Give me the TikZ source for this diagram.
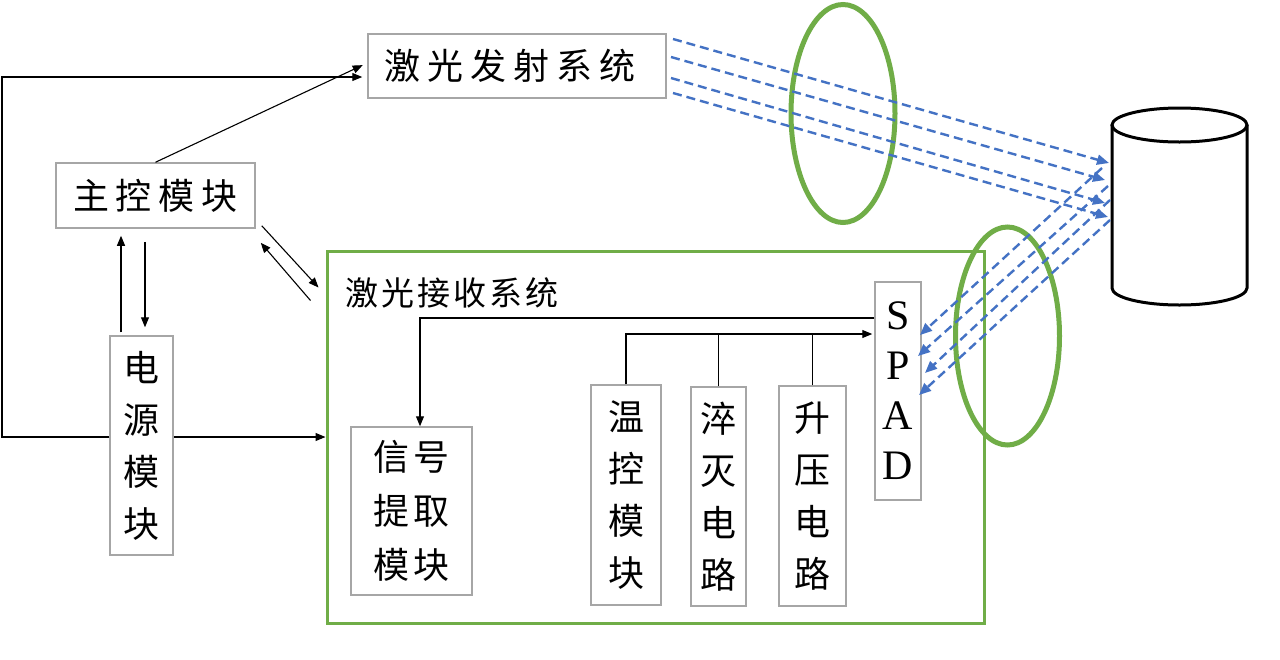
\documentclass[tikz,border=0pt]{standalone}
\usepackage{fontspec}
\setmainfont{Liberation Serif}
\newfontfamily\cjk{Noto Sans CJK SC}
\usetikzlibrary{arrows.meta}
\definecolor{gbox}{HTML}{A6A6A6}
\definecolor{grn}{HTML}{70AD47}
\definecolor{blu}{HTML}{4472C4}
\begin{document}
\begin{tikzpicture}[x=1pt,y=-1pt,
  box/.style={draw=gbox,line width=1.5pt,fill=white,inner sep=0pt,align=center,
    font=\cjk\fontsize{36}{52}\selectfont},
  conn/.style={line width=1.1pt,-{Triangle[length=10pt,width=8pt]}},
  plain/.style={line width=1.1pt},
  beam/.style={blu,line width=2.4pt,dash pattern=on 9pt off 5pt,-{Triangle[length=12pt,width=10pt]}},
  lens/.style={grn,line width=5pt}]
\useasboundingbox (0,0) rectangle (1280,659);
\fill[white] (0,0) rectangle (1280,659);

% receiving system frame
\node[draw=grn,line width=3pt,minimum width=657pt,minimum height=372pt,inner sep=0pt] (rx) at (655.5,437) {};
\node[font=\cjk\fontsize{33}{36}\selectfont,inner sep=0pt] (rxl) at (452,293)
  {激\hspace{3pt}光\hspace{3pt}接\hspace{3pt}收\hspace{3pt}系\hspace{3pt}统};

% boxes
\node[box,minimum width=298pt,minimum height=64pt] (tx) at (517,66)
  {\hspace{-14pt}激\hspace{7pt}光\hspace{7pt}发\hspace{7pt}射\hspace{7pt}系\hspace{7pt}统};
\node[box,minimum width=199pt,minimum height=65pt] (mc) at (155.5,195.5)
  {主\hspace{7pt}控\hspace{7pt}模\hspace{7pt}块};
\node[box,minimum width=63pt,minimum height=219pt] (pw) at (141.5,445.5) {电\\源\\模\\块};
\node[box,minimum width=121pt,minimum height=168pt,font=\cjk\fontsize{36}{54}\selectfont] (sig) at (411.5,511)
  {信\hspace{5pt}号\\提\hspace{5pt}取\\模\hspace{5pt}块};
\node[box,minimum width=70pt,minimum height=220pt] (tc) at (626,495) {温\\控\\模\\块};
\node[box,minimum width=55pt,minimum height=219pt] (qc) at (718.5,496.5) {淬\\灭\\电\\路};
\node[box,minimum width=67pt,minimum height=220pt] (bc) at (812.5,496) {升\\压\\电\\路};
\node[box,minimum width=46pt,minimum height=218pt,font=\fontsize{42}{50}\selectfont] (spad) at (898,391) {S\\P\\A\\D};

% target cylinder
\draw[line width=3pt] (1112,125) -- (1112,288) arc[start angle=180,end angle=0,x radius=67.5,y radius=17] -- (1247,125);
\draw[line width=3pt] (1179.5,125) ellipse[x radius=67.5,y radius=17];

% lenses
\draw[lens] (843,113.5) ellipse[x radius=52,y radius=109];
\draw[lens] (1007.5,336) ellipse[x radius=52,y radius=109];

% connectors
\coordinate (L1) at (2,437);
\coordinate (L2) at (2,77);
\draw[conn] (pw.west |- L1) -- (L1) -- (L2) -- ([xshift=-5pt]tx.west |- L2);
\draw[conn] (pw.east |- L1) -- (rx.west |- L1);
\draw[conn,shorten >=5pt] (mc.north) -- ([yshift=3pt]tx.west);
\draw[conn,shorten <=3pt,shorten >=7pt] ([xshift=-20.5pt]pw.north) -- ([xshift=-34.5pt]mc.south);
\draw[conn,shorten <=13pt,shorten >=8pt] ([xshift=-10.5pt]mc.south) -- ([xshift=3.5pt]pw.north);
\draw[conn] ([xshift=6pt,yshift=3pt]mc.south east) -- ([xshift=-7pt,yshift=-38pt]rx.north west);
\draw[conn] ([xshift=-15pt,yshift=-51pt]rx.north west) -- ([xshift=5pt,yshift=-14pt]mc.south east);

\coordinate (h1) at (420,318);
\coordinate (h2) at (626,334);
\draw[conn] (spad.west |- h1) -- (h1) -- (h1 |- sig.north);
\draw[conn] (tc.north) -- (tc.north |- h2) -- ([xshift=-2pt]spad.west |- h2);
\draw[plain] (qc.north) -- (qc.north |- h2);
\draw[plain] (bc.north) -- (bc.north |- h2);

% outgoing beams
\coordinate (t1) at (673,39);  \coordinate (e1) at (1109,163);
\coordinate (t2) at (671,57);  \coordinate (e2) at (1105,180);
\coordinate (t3) at (671,78);  \coordinate (e3) at (1105,203);
\coordinate (t4) at (673,93);  \coordinate (e4) at (1108,217);
\draw[beam] (t1) -- (e1);
\draw[beam] (t2) -- (e2);
\draw[beam] (t3) -- (e3);
\draw[beam] (t4) -- (e4);

% returning beams
\coordinate (s1) at (1102,168); \coordinate (d1) at (920,335);
\coordinate (s2) at (1108,186); \coordinate (d2) at (918,356);
\coordinate (s3) at (1110,200); \coordinate (d3) at (925,373);
\coordinate (s4) at (1110,220); \coordinate (d4) at (919,395);
\draw[beam] (s1) -- (d1);
\draw[beam] (s2) -- (d2);
\draw[beam] (s3) -- (d3);
\draw[beam] (s4) -- (d4);
\end{tikzpicture}
\end{document}
